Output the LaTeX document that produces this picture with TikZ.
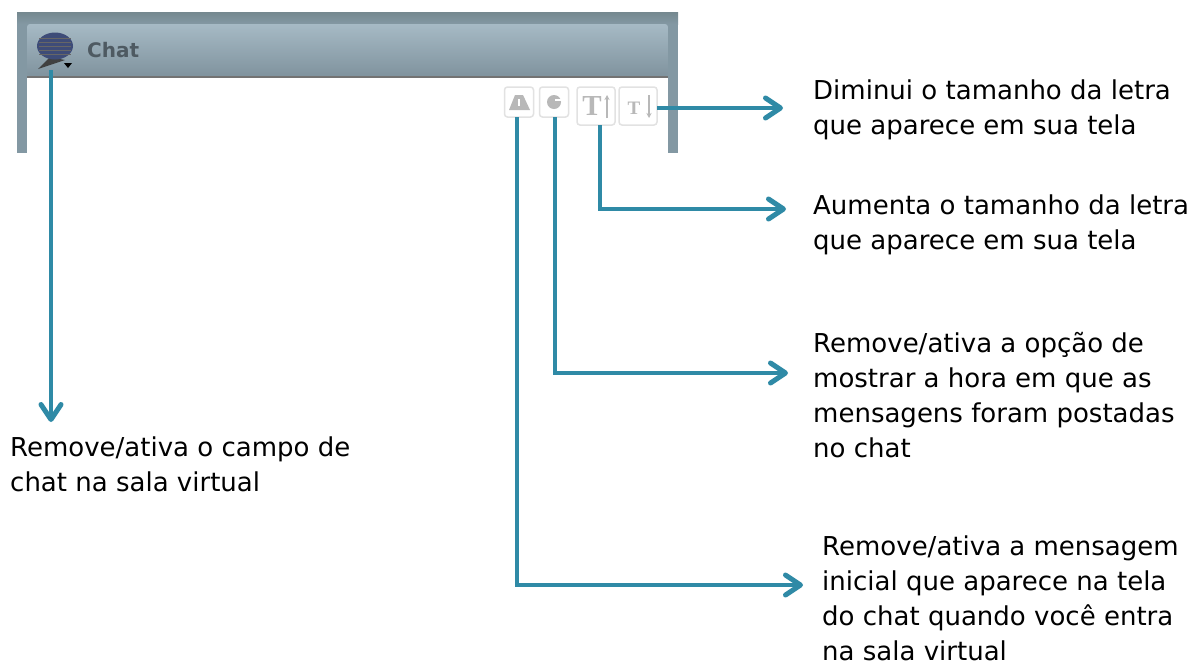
\documentclass[tikz,border=0pt]{standalone}
\usepackage{fontspec}
\setmainfont{DejaVu Sans}
\usetikzlibrary{shapes.geometric,arrows.meta}
\definecolor{arrowblue}{HTML}{2F8AA6}
\definecolor{frameC}{HTML}{8398A3}
\definecolor{frameTop}{HTML}{75888F}
\definecolor{barTop}{HTML}{A6BAC5}
\definecolor{barBot}{HTML}{80939E}
\definecolor{iconC}{HTML}{E2E2E2}
\definecolor{glyphC}{HTML}{B8B8B8}
\definecolor{bubble}{HTML}{3E4C78}
\definecolor{chatC}{HTML}{4E5A62}
\newfontfamily\serifT{Liberation Serif}
\tikzset{
 x=1pt,y=-1pt,
 conn/.style={draw=arrowblue,line width=4.2pt,line join=miter,-{Straight Barb[length=15pt,width=20pt,line width=5pt,round]}},
 lab/.style={anchor=north west,align=left,inner sep=0pt,font=\fontsize{26}{35}\selectfont,text=black},
 iconbox/.style={draw=iconC,line width=1.5pt,rounded corners=3pt,fill=white,inner sep=0pt},
 glyph/.style={text=glyphC,inner sep=0pt}
}
\begin{document}
\begin{tikzpicture}
\useasboundingbox (0,0) rectangle (1193,665);
\fill[white] (0,0) rectangle (1193,665);
% window
\fill[frameC] (17,12) rectangle (678,153);
\shade[top color=frameTop,bottom color=frameC] (17,12) rectangle (678,24);
\fill[white] (27,78) rectangle (668,153);
\shade[top color=barTop,bottom color=barBot,rounded corners=3pt] (27,24) rectangle (668,76);
\fill[black!55] (27,76) rectangle (668,78);
% chat icon
\fill[black!75] (38,69) -- (50,57) -- (65,60) -- cycle;
\fill[bubble] (55,46) ellipse (18 and 13.5);
\foreach \yy in {38,42,46,50,54} \draw[black!60,line width=.6pt] (39,\yy) -- (71,\yy);
\fill[black] (64,63) -- (72,63) -- (68,68) -- cycle;
\node[anchor=west,inner sep=0pt,text=chatC,font=\bfseries\fontsize{20}{24}\selectfont] (chat) at (87,50) {Chat};
% icons
\node[iconbox,minimum width=29pt,minimum height=30pt] (warn) at (519,102) {};
\node[iconbox,minimum width=29pt,minimum height=30pt] (clock) at (554,102) {};
\node[iconbox,minimum width=38pt,minimum height=38pt] (up) at (596,106) {};
\node[iconbox,minimum width=38pt,minimum height=38pt] (down) at (638,106) {};
\fill[glyphC] (515,95) -- (523,95) -- (530,110) -- (509,110) -- cycle;
\fill[white] (518,99) rectangle (520,106);
\fill[glyphC] (554,102) circle (7);
\fill[white] (555,99) rectangle (561,101);
\node[glyph,font=\serifT\bfseries\fontsize{29}{29}\selectfont] at (592,106) {T};
\node[glyph,font=\serifT\bfseries\fontsize{19}{19}\selectfont] at (634,108) {T};
\draw[glyphC,line width=1.2pt,-{Stealth[length=5pt,width=5pt]}] (607,118) -- (607,95);
\draw[glyphC,line width=1.2pt,-{Stealth[length=5pt,width=5pt]}] (649,95) -- (649,118);
% text
\node[lab] (t1) at (813,80) {Diminui o tamanho da letra\\que aparece em sua tela};
\node[lab] (t2) at (813,195) {Aumenta o tamanho da letra\\que aparece em sua tela};
\node[lab] (t3) at (813,332) {Remove/ativa a opção de\\mostrar a hora em que as\\mensagens foram postadas\\no chat};
\node[lab] (t4) at (822,536) {Remove/ativa a mensagem\\inicial que aparece na tela\\do chat quando você entra\\na sala virtual};
\node[lab] (t5) at (10,437) {Remove/ativa o campo de\\chat na sala virtual};
% connector ends
\coordinate (s1) at (657,108);
\coordinate (s2) at (600,125);
\coordinate (s3) at (555,117);
\coordinate (s4) at (517,117);
\coordinate (s5) at (51,70);
\coordinate (e1) at (783,108);
\coordinate (e2) at (786,209);
\coordinate (e3) at (788,373);
\coordinate (e4) at (803,585);
\coordinate (e5) at (51,422);
\draw[conn] (s1) -- (e1);
\draw[conn] (s2) |- (e2);
\draw[conn] (s3) |- (e3);
\draw[conn] (s4) |- (e4);
\draw[conn] (s5) -- (e5);
\end{tikzpicture}
\end{document}
